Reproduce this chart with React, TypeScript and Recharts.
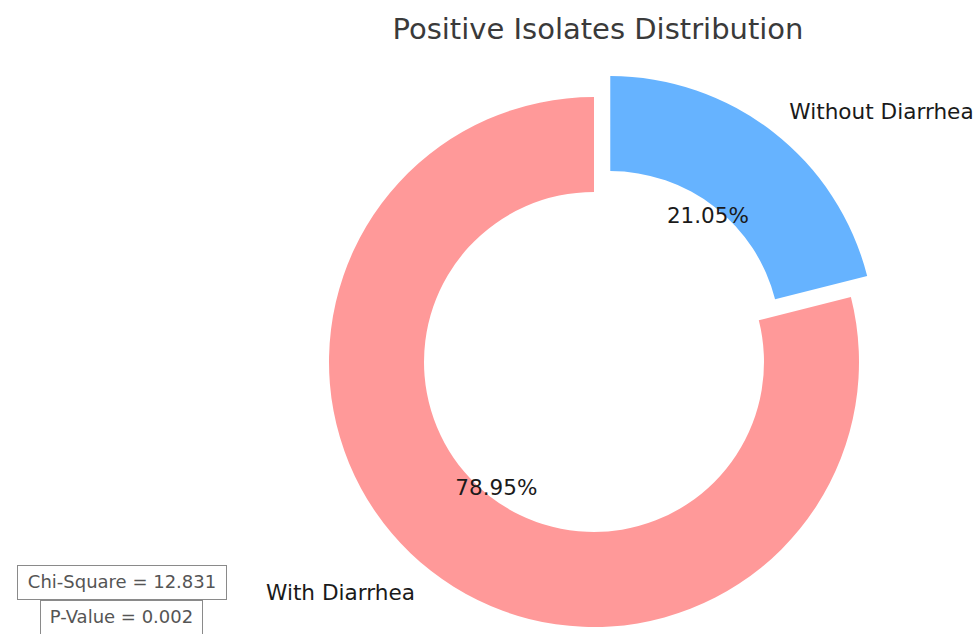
import React from 'react';
import { PieChart, Pie, Cell, Sector } from 'recharts';

const categories = ['With Diarrhea', 'Without Diarrhea'];
const counts = [15, 4];
const colors = ['#ff9999', '#66b3ff'];
const explodedCategory = 'Without Diarrhea';
const statLines = ['Chi-Square = 12.831', 'P-Value = 0.002'];

const data = categories.map((name, i) => ({ name, value: counts[i] }));

const RAD = Math.PI / 180;
const OUTER = 265;
const INNER = 170;
const EXPLODE = 0.1 * OUTER;

const offsetFor = (name: string, midAngle: number) => {
  if (name !== explodedCategory) return { dx: 0, dy: 0 };
  return { dx: EXPLODE * Math.cos(-midAngle * RAD), dy: EXPLODE * Math.sin(-midAngle * RAD) };
};

const renderShape = (props: any) => {
  const { dx, dy } = offsetFor(props.name ?? props.payload?.name, props.midAngle);
  return <Sector {...props} cx={props.cx + dx} cy={props.cy + dy} />;
};

const renderLabel = (props: any) => {
  const { cx, cy, midAngle, outerRadius, percent, name } = props;
  const { dx, dy } = offsetFor(name, midAngle);
  const ccx = cx + dx;
  const ccy = cy + dy;
  const cos = Math.cos(-midAngle * RAD);
  const sin = Math.sin(-midAngle * RAD);
  const lx = ccx + outerRadius * 1.1 * cos;
  const ly = ccy + outerRadius * 1.1 * sin;
  const px = ccx + outerRadius * 0.6 * cos;
  const py = ccy + outerRadius * 0.6 * sin;
  return (
    <g>
      <text x={lx} y={ly} textAnchor={cos >= 0 ? 'start' : 'end'} dominantBaseline="central"
        fontSize={21.6} fill="#1a1a1a" fontFamily="DejaVu Sans">
        {name}
      </text>
      <text x={px} y={py} textAnchor="middle" dominantBaseline="central"
        fontSize={21.5} fill="#1a1a1a" fontFamily="DejaVu Sans">
        {(percent * 100).toFixed(2)}%
      </text>
    </g>
  );
};

const boxStyle: React.CSSProperties = {
  position: 'absolute',
  background: '#fff',
  border: '1.5px solid #8a8a8a',
  color: '#555',
  fontFamily: 'DejaVu Sans',
  fontSize: 18,
  lineHeight: '32px',
  textAlign: 'center',
  boxSizing: 'border-box',
};

const App = () => {
  return (
    <div style={{ position: 'absolute', left: 0, top: 0, width: 978, height: 634, background: '#fff', overflow: 'hidden' }}>
      <div style={{
        position: 'absolute', left: 0, width: 978, top: 12, textAlign: 'center',
        paddingLeft: 218, boxSizing: 'border-box',
        fontFamily: 'DejaVu Sans', fontSize: 29, color: '#3a3a3a',
      }}>
        Positive Isolates Distribution
      </div>
      <PieChart width={978} height={634} margin={{ top: 0, right: 0, bottom: 0, left: 0 }}
        style={{ position: 'absolute', left: 0, top: 0 }}>
        <Pie
          data={data}
          dataKey="value"
          nameKey="name"
          cx={594}
          cy={362}
          innerRadius={INNER}
          outerRadius={OUTER}
          startAngle={90}
          endAngle={450}
          stroke="none"
          shape={renderShape}
          label={renderLabel}
          labelLine={false}
          isAnimationActive={false}
        >
          {data.map((d, i) => (
            <Cell key={d.name} fill={colors[i]} />
          ))}
        </Pie>
      </PieChart>
      <div style={{ ...boxStyle, left: 17, top: 565, width: 210, height: 35 }}>{statLines[0]}</div>
      <div style={{ ...boxStyle, left: 40, top: 600, width: 163, height: 36 }}>{statLines[1]}</div>
    </div>
  );
};

export default App;
